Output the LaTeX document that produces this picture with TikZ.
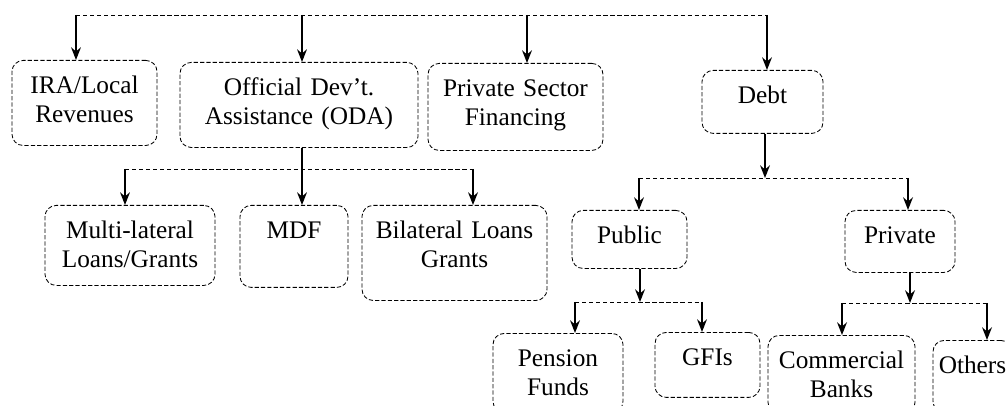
\documentclass[tikz,border=0pt]{standalone}
\usepackage{fontspec}
\setmainfont{Liberation Serif}
\usetikzlibrary{arrows.meta}

\begin{document}
\begin{tikzpicture}[
    x=0.025cm,
    y=-0.025cm,
    >={Stealth[length=9pt,width=7pt]},
    box/.style 2 args={draw, dash pattern=on 3pt off 1.5pt, line width=0.6pt, rounded corners=8pt, anchor=north, align=center, inner xsep=3pt, inner ysep=11pt, minimum width=#1, text width=#1-6pt, text height=12.5pt, text depth=#2, font=\fontsize{18}{20.5}\selectfont},
    bar/.style={dash pattern=on 3pt off 2pt, line width=0.6pt},
    link/.style={->, line width=1pt}
]
\useasboundingbox (0,0) rectangle (1006,406);
\clip (0,0) rectangle (1006,406);
\node[box={3.625cm}{26pt}] (ira) at (84.5,60) {IRA/Local\\ Revenues};
\node[box={5.95cm}{26pt}] (oda) at (299,62) {Official Dev't.\\ Assistance (ODA)};
\node[box={4.375cm}{27.4pt}] (psf) at (515.5,63) {Private Sector\\ Financing};
\node[box={3.025cm}{10.3pt}] (debt) at (762.5,70) {Debt};
\node[box={4.25cm}{22.4pt}] (multi) at (130,205) {Multi-lateral\\ Loans/Grants};
\node[box={2.7cm}{23.8pt}] (mdf) at (294,205) {MDF};
\node[box={4.625cm}{33.1pt}] (bilat) at (454.5,205) {Bilateral Loans\\ Grants};
\node[box={2.875cm}{6.8pt}] (public) at (629.5,210) {Public};
\node[box={2.75cm}{9.6pt}] (private) at (900,210) {Private};
\node[box={3.25cm}{21.7pt}] (pension) at (558,333) {Pension\\ Funds};
\node[box={2.625cm}{11.7pt}] (gfis) at (707.5,332) {GFIs};
\node[box={3.675cm}{21pt}] (comm) at (841.5,335) {Commercial\\ Banks};
\node[box={1.975cm}{16.7pt}] (others) at (972.5,340) {Others};
\coordinate (t1) at (76,15);
\coordinate (t2) at (302,15);
\coordinate (t3) at (527,15);
\coordinate (t4) at (767,15);
\draw[bar] (t1) -- (t4);
\foreach \c/\n in {t1/ira, t2/oda, t3/psf, t4/debt}
  \draw[link] (\c) -- (\c |- \n.north);
\coordinate (o1) at (125,169);
\coordinate (o2) at (302,169);
\coordinate (o3) at (473,169);
\draw[bar] (o1) -- (o3);
\draw[link] (oda.south -| o2) -- (o2 |- mdf.north);
\coordinate (d1) at (639,178);
\coordinate (d2) at (765,178);
\coordinate (d3) at (908,178);
\draw[bar] (d1) -- (d3);
\draw[link] (debt.south -| d2) -- (d2);
\coordinate (p1) at (575,302);
\coordinate (p2) at (640,302);
\coordinate (p3) at (702,302);
\draw[bar] (p1) -- (p3);
\draw[link] (public.south -| p2) -- (p2);
\coordinate (q1) at (842,303);
\coordinate (q2) at (910,303);
\coordinate (q3) at (987,303);
\draw[bar] (q1) -- (q3);
\draw[link] (private.south -| q2) -- (q2);
\foreach \c/\n in {o1/multi, o3/bilat, d1/public, d3/private, p1/pension, p3/gfis, q1/comm, q3/others}
  \draw[link] (\c) -- (\c |- \n.north);
\end{tikzpicture}
\end{document}
